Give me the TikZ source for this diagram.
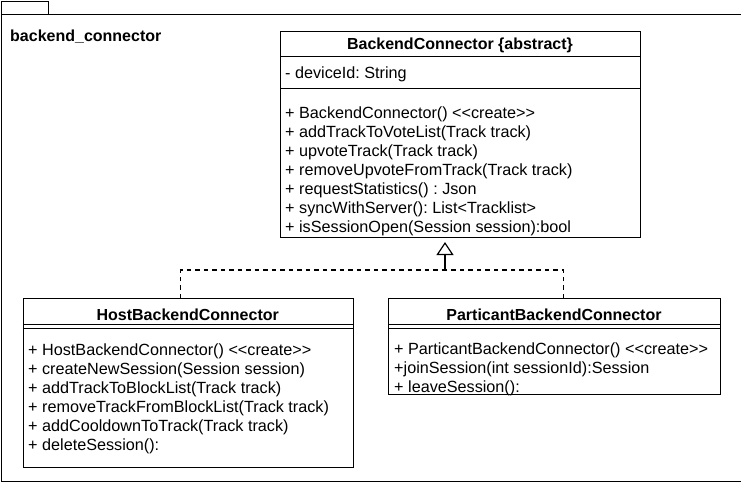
\documentclass[tikz,border=0pt]{standalone}
\usepackage{fontspec}
\setmainfont{Liberation Sans}
\usetikzlibrary{arrows.meta}
\frenchspacing

\tikzset{
  classbox/.style={draw, line width=1pt, inner sep=0pt, anchor=north west},
  member/.style={anchor=base west, inner sep=0pt, align=left, font=\fontsize{16.2}{19}\selectfont},
  classname/.style={anchor=base, inner sep=0pt, font=\fontsize{16}{19}\selectfont\bfseries},
  realizes/.style={line width=1.6pt, dash pattern=on 4.5pt off 4pt},
}

\begin{document}
\begin{tikzpicture}[x=1pt, y=-1pt]
      \useasboundingbox (0,0) rectangle (741,491);

      % package
      \node[classbox, minimum width=47.5pt, minimum height=13.5pt] (tab) at (0.5,0.5) {};
      \node[classbox, minimum width=740pt, minimum height=466.5pt] (pkg) at (0.5,14) {};
      \node[anchor=base west, inner sep=0pt, font=\fontsize{16}{19}\selectfont\bfseries] (pkgname) at (10,41) {backend\_connector};

      % abstract class (member nodes sit on the baseline of their last line)
      \node[classbox, minimum width=360pt, minimum height=206pt] (base) at (280,31) {};
      \node[classname] (basename) at (460,49) {BackendConnector \{abstract\}};
      \draw[line width=1pt] (base.west |- 0,56) -- (base.east |- 0,56);
      \node[member] (baseattr) at (285,78) {- deviceId: String};
      \draw[line width=1pt] (base.west |- 0,88) -- (base.east |- 0,88);
      \node[member] (baseops) at (285,232) {+ BackendConnector() <{}<create>{}>\\
        + addTrackToVoteList(Track track)\\
        + upvoteTrack(Track track)\\
        + removeUpvoteFromTrack(Track track)\\
        + requestStatistics() : Json\\
        + syncWithServer(): List<Tracklist>\\
        + isSessionOpen(Session session):bool};

      % host
      \node[classbox, minimum width=330.5pt, minimum height=169pt] (host) at (22.5,298) {};
      \node[classname] (hostname) at (187.75,320) {HostBackendConnector};
      \draw[line width=1pt] (host.west |- 0,324) -- (host.east |- 0,324);
      \draw[line width=1pt] (host.west |- 0,328) -- (host.east |- 0,328);
      \node[member] (hostops) at (28,450) {+ HostBackendConnector() <{}<create>{}>\\
        + createNewSession(Session session)\\
        + addTrackToBlockList(Track track)\\
        + removeTrackFromBlockList(Track track)\\
        + addCooldownToTrack(Track track)\\
        + deleteSession():};

      % participant
      \node[classbox, minimum width=332pt, minimum height=96pt] (part) at (388,298) {};
      \node[classname] (partname) at (554,320) {ParticantBackendConnector};
      \draw[line width=1pt] (part.west |- 0,324) -- (part.east |- 0,324);
      \draw[line width=1pt] (part.west |- 0,328) -- (part.east |- 0,328);
      \node[member] (partops) at (394,392) {+ ParticantBackendConnector() <{}<create>{}>\\
        +joinSession(int sessionId):Session\\
        + leaveSession():};

      % realization
      \coordinate (bend) at (445,270);
      \coordinate (tip) at (445,242);
      \draw[realizes] ([xshift=-7.75pt]host.north) |- (bend);
      \draw[realizes] ([xshift=9pt]part.north) |- (bend);
      \draw[line width=1.6pt, -{Triangle[open, width=17pt, length=13pt, line width=1.2pt]}] (bend) -- (tip);
    \end{tikzpicture}
\end{document}
